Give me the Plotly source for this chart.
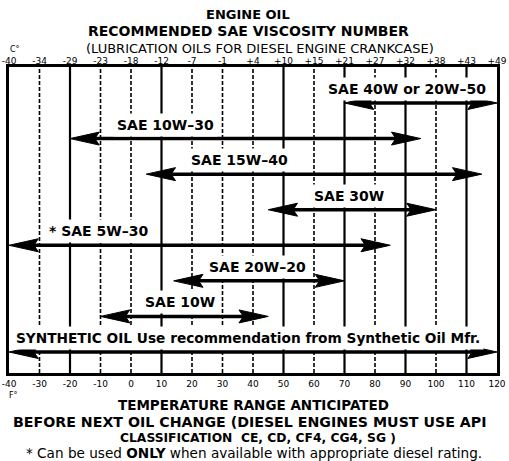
import plotly.graph_objects as go

# ---------------- data ----------------
oils = ["SAE 40W or 20W\u201350", "SAE 10W\u201330", "SAE 15W\u201340", "SAE 30W",
        "* SAE 5W\u201330", "SAE 20W\u201320", "SAE 10W",
        "SYNTHETIC OIL Use recommendation from Synthetic Oil Mfr."]
low_f = [70, -20, 5, 45, -40, 14, -10, -40]
high_f = [120, 95, 115, 100, 85, 70, 45, 120]

f_ticks = [-40, -30, -20, -10, 0, 10, 20, 30, 40, 50, 60, 70, 80, 90, 100, 110, 120]
f_labels = ["-40", "-30", "-20", "-10", "0", "10", "20", "30", "40", "50", "60",
            "70", "80", "90", "100", "110", "120"]
c_labels = ["-40", "-34", "-29", "-23", "-18", "-12", "-7", "-1", "+4", "+10", "+15",
            "+21", "+27", "+32", "+38", "+43", "+49"]

# ---------------- layout constants ----------------
W, H = 509, 461
L, R, T, B = 7, 2, 67, 88
PW, PH = W - L - R, H - T - B
XMIN, XMAX = -40, 120
ROW_PX = 35.57
Y0 = -36 / ROW_PX
Y1 = Y0 + PH / ROW_PX
FONT = "DejaVu Sans"

label_x = [90.5, 11.2, 35.5, 71.4, -10.6, 41.6, 16, 38.4]
label_size = [14, 14, 14, 14, 14, 14, 14, 13.7]

solid_lines = [-20, 10, 50, 70, 90, 110]


def px(x, y):
    return (x - L) / PW, (H - B - y) / PH


dx_per_px = (XMAX - XMIN) / PW
dy_per_px = 1 / ROW_PX
head_len = 30 * dx_per_px
head_half = 6.5 * dy_per_px

fig = go.Figure()

# grid lines
shapes = []
for v in f_ticks[1:-1]:
    solid = v in solid_lines
    shapes.append(dict(type="line", xref="x", yref="paper", x0=v, x1=v, y0=0, y1=1,
                       layer="below",
                       line=dict(color="black", width=2.2 if solid else 1.6,
                                 dash="solid" if solid else "4px,2px")))

# shafts
sx, sy = [], []
for i, (a, b) in enumerate(zip(low_f, high_f)):
    sx += [a + head_len * 0.6, b - head_len * 0.6, None]
    sy += [i, i, None]
fig.add_trace(go.Scatter(x=sx, y=sy, mode="lines", line=dict(color="black", width=3.5),
                         hoverinfo="skip", showlegend=False))

# heads
hx, hy = [], []
for i, (a, b) in enumerate(zip(low_f, high_f)):
    hx += [a, a + head_len, a + head_len * 0.85, a + head_len, a, None]
    hy += [i, i - head_half, i, i + head_half, i, None]
    hx += [b, b - head_len, b - head_len * 0.85, b - head_len, b, None]
    hy += [i, i - head_half, i, i + head_half, i, None]
fig.add_trace(go.Scatter(x=hx, y=hy, mode="lines", fill="toself", fillcolor="black",
                         line=dict(color="black", width=1), hoverinfo="skip",
                         showlegend=False))

# second axis for Celsius
fig.add_trace(go.Scatter(x=[XMIN, XMAX], y=[0, 0], xaxis="x2", mode="markers",
                         marker=dict(opacity=0), hoverinfo="skip", showlegend=False))

annotations = []
for i, name in enumerate(oils):
    annotations.append(dict(x=label_x[i], y=i, xref="x", yref="y", text="<b>%s</b>" % name,
                            showarrow=False, yshift=14, bgcolor="white", borderpad=3,
                            font=dict(family=FONT, size=label_size[i], color="black")))


def txt(x, y, text, size, bold=True, xanchor="center"):
    xp, yp = px(x, y)
    annotations.append(dict(x=xp, y=yp, xref="paper", yref="paper",
                            text=("<b>%s</b>" % text) if bold else text,
                            showarrow=False, xanchor=xanchor, yanchor="middle",
                            font=dict(family=FONT, size=size, color="black")))


txt(252, 15, "ENGINE OIL", 13)
txt(252, 31, "RECOMMENDED SAE VISCOSITY NUMBER", 14)
txt(264, 48, "(LUBRICATION OILS FOR DIESEL ENGINE CRANKCASE)", 13, bold=False)
txt(6, 50, "C\u00b0", 8, bold=False, xanchor="left")
txt(5, 395, "F\u00b0", 8, bold=False, xanchor="left")
txt(257, 405, "TEMPERATURE RANGE ANTICIPATED", 13.5)
txt(254, 422, "BEFORE NEXT OIL CHANGE (DIESEL ENGINES MUST USE API", 14.2)
txt(262, 438, "CLASSIFICATION  CE, CD, CF4, CG4, SG )", 12.3)
txt(258, 453, "* Can be used <b>ONLY</b> when available with appropriate diesel rating.", 13.6,
    bold=False)

fig.update_layout(
    width=W, height=H, margin=dict(l=L, r=R, t=T, b=B),
    paper_bgcolor="white", plot_bgcolor="white",
    shapes=shapes, annotations=annotations, showlegend=False,
    xaxis=dict(range=[XMIN, XMAX], tickvals=f_ticks, ticktext=f_labels, showgrid=False,
               zeroline=False, showline=True, mirror=True, linecolor="black", linewidth=2.5,
               ticks="", ticklabeloverflow="allow",
               tickfont=dict(family=FONT, size=9, color="black")),
    xaxis2=dict(range=[XMIN, XMAX], overlaying="x", side="top", tickvals=f_ticks,
                ticktext=c_labels, showgrid=False, zeroline=False, ticks="",
                ticklabeloverflow="allow",
                tickfont=dict(family=FONT, size=9, color="black")),
    yaxis=dict(range=[Y1, Y0], showgrid=False, zeroline=False, showticklabels=False,
               showline=True, mirror=True, linecolor="black", linewidth=2.5),
)

fig.write_html("out.html", config={"displayModeBar": False},
               post_script="document.body.style.margin='0';document.body.style.overflow='hidden';")
